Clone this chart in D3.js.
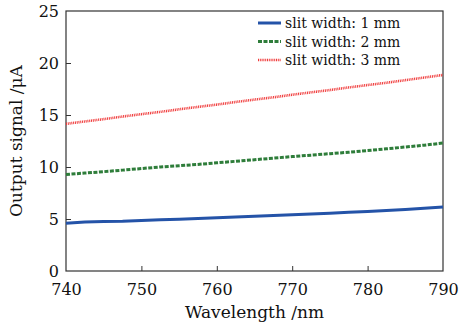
<!DOCTYPE html>
<meta charset="utf-8">
<head><title>Output signal vs wavelength</title></head>
<script src="https://d3js.org/d3.v7.min.js"></script>
<style>
    body { margin: 0; background: #fff; }
    svg text { font-family: "DejaVu Serif", serif; fill: #111; }
    .tick line { stroke: #333; }
</style>
<div id="viz"></div>
<script>
// wavelength samples (nm)
var wavelength = [740, 742.5, 745, 747.5, 750, 752.5, 755, 757.5, 760, 762.5, 765,
                  767.5, 770, 772.5, 775, 777.5, 780, 782.5, 785, 787.5, 790];
var slit1 = [4.6, 4.72, 4.75, 4.78, 4.86, 4.92, 4.98, 5.05, 5.13, 5.2, 5.27,
             5.33, 5.4, 5.48, 5.56, 5.65, 5.73, 5.82, 5.92, 6.03, 6.15];
var slit2 = [9.28, 9.42, 9.55, 9.7, 9.85, 10.0, 10.12, 10.25, 10.4, 10.55, 10.7,
             10.85, 11.0, 11.14, 11.28, 11.42, 11.58, 11.75, 11.92, 12.1, 12.3];
var slit3 = [14.15, 14.38, 14.6, 14.85, 15.08, 15.3, 15.55, 15.78, 16.0, 16.25, 16.48,
             16.7, 16.95, 17.18, 17.4, 17.65, 17.88, 18.1, 18.35, 18.6, 18.85];
var seriesNames = ['slit width: 1 mm', 'slit width: 2 mm', 'slit width: 3 mm'];
var xTicks = [740, 750, 760, 770, 780, 790];
var yTicks = [0, 5, 10, 15, 20, 25];

var W = 473, H = 326;
var margin = {top: 11, right: 30, bottom: 55, left: 66};
var width = W - margin.left - margin.right;
var height = H - margin.top - margin.bottom;

var root = d3.select('#viz').append('svg')
    .attr('width', W).attr('height', H);
var svg = root.append('g')
    .attr('transform', 'translate(' + margin.left + ',' + margin.top + ')');

var x = d3.scaleLinear().domain([740, 790]).range([0, width]);
var y = d3.scaleLinear().domain([0, 25]).range([height, 0]);

// frame
svg.append('rect')
    .attr('width', width).attr('height', height)
    .attr('fill', 'none').attr('stroke', '#333').attr('stroke-width', 1.2);

var xa = svg.append('g')
    .attr('transform', 'translate(0,' + height + ')')
    .call(d3.axisBottom(x).tickValues(xTicks).tickSize(-5).tickPadding(13));
xa.select('.domain').remove();
xa.selectAll('text').style('font-size', '16px');

var ya = svg.append('g')
    .call(d3.axisLeft(y).tickValues(yTicks).tickSize(-5).tickPadding(7));
ya.select('.domain').remove();
ya.selectAll('text').style('font-size', '16px');
// no tick marks at the frame corners
xa.selectAll('.tick').filter(function(d) { return d === 740 || d === 790; }).select('line').remove();
ya.selectAll('.tick').filter(function(d) { return d === 0 || d === 25; }).select('line').remove();

var styles = [
    {data: slit1, color: '#2453a8', width: 3, dash: null},
    {data: slit2, color: '#2e7d3a', width: 3, dash: '4,1.5'},
    {data: slit3, color: '#f03a3a', width: 2.6, dash: '1,0.8'}
];

var line = d3.line()
    .x(function(d) { return x(d[0]); })
    .y(function(d) { return y(d[1]); });

styles.forEach(function(s) {
    svg.append('path')
        .datum(wavelength.map(function(w, i) { return [w, s.data[i]]; }))
        .attr('fill', 'none')
        .attr('stroke', s.color)
        .attr('stroke-width', s.width)
        .attr('stroke-dasharray', s.dash)
        .attr('d', line);
});

// legend
var lg = svg.append('g').attr('transform', 'translate(' + (width - 193) + ',12)');
styles.forEach(function(s, i) {
    var row = lg.append('g').attr('transform', 'translate(0,' + (i * 18.5) + ')');
    row.append('line')
        .attr('x1', 8).attr('x2', 31).attr('y1', 0).attr('y2', 0)
        .attr('stroke', s.color).attr('stroke-width', s.width)
        .attr('stroke-dasharray', s.dash);
    row.append('text')
        .attr('x', 35).attr('y', 5)
        .style('font-size', '14px')
        .text(seriesNames[i]);
});

svg.append('text')
    .attr('x', width / 2).attr('y', height + 47)
    .style('text-anchor', 'middle')
    .style('font-size', '17px')
    .text('Wavelength /nm');

svg.append('text')
    .attr('transform', 'translate(-44,' + (height / 2) + ')rotate(-90)')
    .style('text-anchor', 'middle')
    .style('font-size', '17px')
    .text('Output signal /μA');
</script>
